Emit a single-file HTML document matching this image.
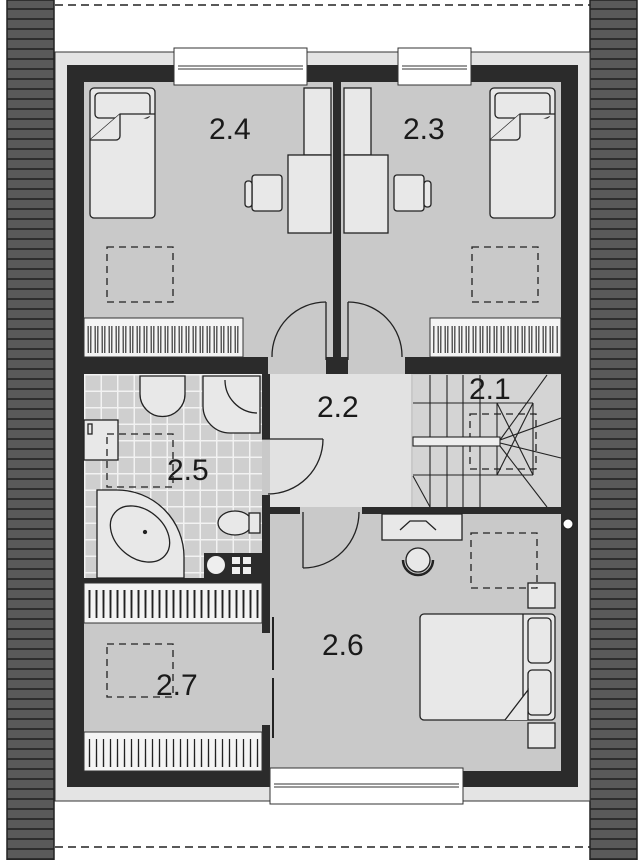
<!DOCTYPE html>
<html><head><meta charset="utf-8"><style>
html,body{margin:0;padding:0;background:#fff}
svg{display:block}
text{font-family:"Liberation Sans",sans-serif;font-size:30px;fill:#1a1a1a}
</style></head><body>
<svg width="644" height="860" viewBox="0 0 644 860" xmlns="http://www.w3.org/2000/svg">
<defs>
<pattern id="st" width="10" height="10" patternUnits="userSpaceOnUse"><rect width="10" height="10" fill="#5a5a5a"/><rect y="8" width="10" height="2" fill="#2e2e2e"/></pattern>
<pattern id="tile" x="84" y="374" width="16.5" height="16.5" patternUnits="userSpaceOnUse"><rect width="16.5" height="16.5" fill="#f2f2f2"/><rect x="1.5" y="1.5" width="15" height="15" fill="#cfcfcf"/></pattern>
<pattern id="zz" x="86" y="0" width="7" height="860" patternUnits="userSpaceOnUse"><path d="M1 0 L4 860 M6 0 L3 860" stroke="#222" stroke-width="1.1"/></pattern>
</defs>
<rect x="7" y="0" width="47" height="860" fill="url(#st)"/>
<rect x="590" y="0" width="47" height="860" fill="url(#st)"/>
<rect x="7" y="0" width="47" height="860" fill="none" stroke="#222" stroke-width="1.5"/>
<rect x="590" y="0" width="47" height="860" fill="none" stroke="#222" stroke-width="1.5"/>
<line x1="55" y1="5" x2="590" y2="5" stroke="#222" stroke-width="1.5" stroke-dasharray="8,5"/>
<line x1="55" y1="847" x2="590" y2="847" stroke="#222" stroke-width="1.5" stroke-dasharray="8,5"/>
<rect x="55" y="52" width="535" height="749" fill="#e4e4e4" stroke="#333" stroke-width="1"/>
<rect x="67" y="65" width="511" height="722" fill="#2b2b2b"/>
<rect x="84" y="82" width="477" height="689" fill="#c9c9c9"/>
<rect x="270" y="374" width="141" height="133" fill="#e2e2e2"/>
<rect x="413" y="375" width="148" height="132" fill="#d4d4d4"/>
<rect x="84" y="374" width="178" height="204" fill="url(#tile)"/>
<rect x="333" y="82" width="8" height="292" fill="#2b2b2b"/>
<rect x="84" y="357" width="184" height="17" fill="#2b2b2b"/>
<rect x="405" y="357" width="156" height="17" fill="#2b2b2b"/>
<rect x="326" y="357" width="22" height="17" fill="#2b2b2b"/>
<rect x="262" y="374" width="8" height="65" fill="#2b2b2b"/>
<rect x="262" y="495" width="8" height="138" fill="#2b2b2b"/>
<rect x="262" y="725" width="8" height="46" fill="#2b2b2b"/>
<rect x="270" y="507" width="30" height="7" fill="#2b2b2b"/>
<rect x="362" y="507" width="199" height="7" fill="#2b2b2b"/>
<rect x="84" y="578" width="178" height="5" fill="#2b2b2b"/>
<line x1="273" y1="617" x2="273" y2="670" stroke="#222" stroke-width="2"/>
<line x1="273" y1="678" x2="273" y2="738" stroke="#222" stroke-width="2"/>
<g fill="#fff" stroke="#333" stroke-width="1">
<rect x="174" y="48" width="133" height="37"/>
<rect x="398" y="48" width="73" height="37"/>
<rect x="270" y="768" width="193" height="36"/>
</g>
<g stroke="#333" stroke-width="1">
<line x1="178" y1="66" x2="303" y2="66"/><line x1="178" y1="69" x2="303" y2="69"/>
<line x1="402" y1="66" x2="467" y2="66"/><line x1="402" y1="69" x2="467" y2="69"/>
<line x1="274" y1="784" x2="459" y2="784"/><line x1="274" y1="787" x2="459" y2="787"/>
</g>
<g stroke="#333" stroke-width="1">
<rect x="84" y="318" width="159" height="39" fill="#f4f4f4"/>
<rect x="430" y="318" width="131" height="39" fill="#f4f4f4"/>
<rect x="84" y="583" width="178" height="40" fill="#f4f4f4"/>
<rect x="84" y="732" width="178" height="39" fill="#f4f4f4"/>
</g>
<g fill="url(#zz)">
<rect x="86" y="326" width="155" height="27"/>
<rect x="432" y="326" width="127" height="27"/>
<rect x="86" y="590" width="174" height="28"/>
<rect x="86" y="739" width="174" height="28"/>
</g>
<g fill="#e8e8e8" stroke="#222" stroke-width="1.3">
<rect x="90" y="88" width="65" height="130" rx="4"/>
<rect x="95" y="93" width="55" height="25" rx="4"/>
<path d="M90 140 L120 114 L155 114"/><path d="M120 114 v22 a4 4 0 0 1 -4 4 H90"/>
<rect x="490" y="88" width="65" height="130" rx="4"/>
<rect x="495" y="93" width="55" height="25" rx="4"/>
<path d="M490 140 L520 114 L555 114"/><path d="M520 114 v22 a4 4 0 0 1 -4 4 H490"/>
<rect x="304" y="88" width="27" height="67"/><rect x="288" y="155" width="43" height="78"/>
<rect x="344" y="88" width="27" height="67"/><rect x="344" y="155" width="44" height="78"/>
<rect x="252" y="175" width="30" height="36" rx="3"/><rect x="245" y="181" width="7" height="26" rx="3"/>
<rect x="394" y="175" width="30" height="36" rx="3"/><rect x="424" y="181" width="7" height="26" rx="3"/>
<rect x="420" y="614" width="135" height="106" rx="4"/>
<rect x="528" y="618" width="23" height="45" rx="4"/><rect x="528" y="670" width="23" height="45" rx="4"/>
<path d="M523 614 V720"/><path d="M505 720 L528 690 V720"/>
<rect x="528" y="583" width="27" height="25"/><rect x="528" y="723" width="27" height="25"/>
<rect x="382" y="514" width="80" height="26"/>
<path d="M400 530 l10 -9 h16 l10 9" fill="none"/>
<circle cx="418" cy="560" r="12"/>
<path d="M403 560 a15 15 0 0 0 30 0" fill="none" stroke-width="2.5"/>
<path d="M140 376 h45 v18 a22 22 0 0 1 -45 0 z"/>
<path d="M203 376 h57 v57 h-30 a27 27 0 0 1 -27 -27 z"/>
<path d="M225 380 a33 33 0 0 0 32 33" fill="none"/>
<rect x="84" y="420" width="34" height="40"/>
<rect x="88" y="424" width="4" height="10"/>
<path d="M97 490 h20 a67 67 0 0 1 67 67 v21 h-87 z"/>
<ellipse cx="140" cy="534" rx="33" ry="24" transform="rotate(40 140 534)"/>
<circle cx="145" cy="532" r="1.5" fill="#222"/>
<ellipse cx="235" cy="523" rx="17" ry="12"/>
<rect x="249" y="513" width="11" height="20"/>
</g>
<rect x="204" y="553" width="58" height="25" fill="#2b2b2b"/>
<circle cx="216" cy="565" r="9" fill="#eee"/>
<g fill="#eee"><rect x="232" y="557" width="8" height="7"/><rect x="243" y="557" width="8" height="7"/><rect x="232" y="567" width="8" height="7"/><rect x="243" y="567" width="8" height="7"/></g>
<g fill="none" stroke="#222" stroke-width="1.3" stroke-dasharray="7,5">
<rect x="107" y="247" width="66" height="55"/>
<rect x="472" y="247" width="66" height="55"/>
<rect x="107" y="434" width="66" height="53"/>
<rect x="107" y="644" width="66" height="53"/>
<rect x="471" y="533" width="66" height="55"/>
<rect x="470" y="414" width="66" height="55"/>
</g>
<g fill="none" stroke="#222" stroke-width="1.3">
<path d="M326 302 A54 54 0 0 0 272 357"/><line x1="326" y1="302" x2="326" y2="360"/>
<path d="M348 302 A54 54 0 0 1 402 357"/><line x1="348" y1="302" x2="348" y2="360"/>
<path d="M323 439 A55 55 0 0 1 268 494"/><line x1="262" y1="439" x2="323" y2="439"/>
<path d="M303 568 A56 56 0 0 0 359 512"/><line x1="303" y1="512" x2="303" y2="568"/>
</g>
<g fill="none" stroke="#222" stroke-width="1.1">
<line x1="430" y1="375" x2="430" y2="507"/><line x1="447" y1="375" x2="447" y2="507"/>
<line x1="463" y1="375" x2="463" y2="507"/><line x1="480" y1="375" x2="480" y2="507"/>
<line x1="497" y1="403" x2="497" y2="475"/>
<line x1="413" y1="403" x2="533" y2="403"/><line x1="413" y1="475" x2="533" y2="475"/>
<line x1="533" y1="403" x2="533" y2="475"/>
<rect x="413" y="437" width="87" height="9" fill="#eee"/>
<line x1="500" y1="440" x2="547" y2="375"/><line x1="500" y1="440" x2="561" y2="418"/>
<line x1="500" y1="443" x2="561" y2="458"/><line x1="500" y1="446" x2="547" y2="507"/>
<line x1="497" y1="403" x2="533" y2="475"/><line x1="497" y1="475" x2="533" y2="403"/>
<line x1="413" y1="476" x2="430" y2="507"/>
</g>
<circle cx="568" cy="524" r="5" fill="#fff" stroke="#222" stroke-width="1"/>
<text x="209" y="139">2.4</text>
<text x="403" y="139">2.3</text>
<text x="317" y="417">2.2</text>
<text x="469" y="399">2.1</text>
<text x="167" y="480">2.5</text>
<text x="322" y="655">2.6</text>
<text x="156" y="695">2.7</text>
</svg>
</body></html>
